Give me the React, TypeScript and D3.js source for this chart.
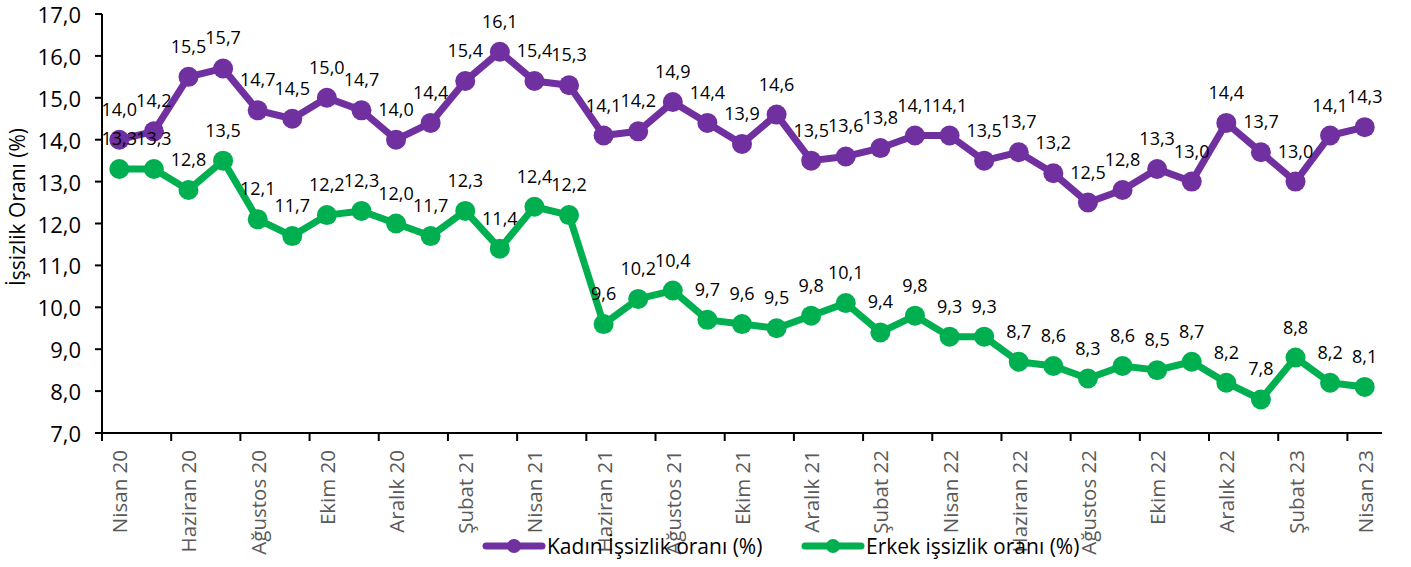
import React, { useEffect } from "react";
import * as d3 from "d3";

const categories = [
  "Nisan 20", "Mayıs 20", "Haziran 20", "Temmuz 20", "Ağustos 20", "Eylül 20",
  "Ekim 20", "Kasım 20", "Aralık 20", "Ocak 21", "Şubat 21", "Mart 21",
  "Nisan 21", "Mayıs 21", "Haziran 21", "Temmuz 21", "Ağustos 21", "Eylül 21",
  "Ekim 21", "Kasım 21", "Aralık 21", "Ocak 22", "Şubat 22", "Mart 22",
  "Nisan 22", "Mayıs 22", "Haziran 22", "Temmuz 22", "Ağustos 22", "Eylül 22",
  "Ekim 22", "Kasım 22", "Aralık 22", "Ocak 23", "Şubat 23", "Mart 23", "Nisan 23",
];

const kadin = [
  14.0, 14.2, 15.5, 15.7, 14.7, 14.5, 15.0, 14.7, 14.0, 14.4, 15.4, 16.1,
  15.4, 15.3, 14.1, 14.2, 14.9, 14.4, 13.9, 14.6, 13.5, 13.6, 13.8, 14.1,
  14.1, 13.5, 13.7, 13.2, 12.5, 12.8, 13.3, 13.0, 14.4, 13.7, 13.0, 14.1, 14.3,
];

const erkek = [
  13.3, 13.3, 12.8, 13.5, 12.1, 11.7, 12.2, 12.3, 12.0, 11.7, 12.3, 11.4,
  12.4, 12.2, 9.6, 10.2, 10.4, 9.7, 9.6, 9.5, 9.8, 10.1, 9.4, 9.8,
  9.3, 9.3, 8.7, 8.6, 8.3, 8.6, 8.5, 8.7, 8.2, 7.8, 8.8, 8.2, 8.1,
];

const yTicks = [7, 8, 9, 10, 11, 12, 13, 14, 15, 16, 17];

const seriesNames = ["Kadın İşsizlik oranı (%)", "Erkek işsizlik oranı (%)"];
const seriesColors = ["#7030A0", "#00B050"];

const W = 1411;
const H = 567;
const FONT = "'Open Sans', sans-serif";

export default function App() {
  useEffect(() => {
    document.body.style.margin = "0";
  }, []);

  const left = 102;
  const right = 1382;
  const top = 14;
  const bottom = 433;

  const x = d3.scaleBand<string>().domain(categories).range([left, right]).padding(0);
  const y = d3.scaleLinear().domain([7, 17]).range([bottom, top]);
  const cx = (i: number) => (x(categories[i]) as number) + x.bandwidth() / 2;
  const fmt = (v: number) => v.toFixed(1).replace(".", ",");

  const line = d3
    .line<number>()
    .x((_, i) => cx(i))
    .y((d) => y(d));

  const series = [kadin, erkek];

  return (
    <svg width={W} height={H} style={{ display: "block", fontFamily: FONT }}>
      <rect x={0} y={0} width={W} height={H} fill="#fff" />
      {/* y axis */}
      <line x1={left} x2={left} y1={top} y2={bottom} stroke="#000" strokeWidth={2} />
      {yTicks.map((t) => (
        <g key={t}>
          <line x1={left - 7} x2={left} y1={y(t)} y2={y(t)} stroke="#000" strokeWidth={2} />
          <text
            x={left - 21}
            y={y(t)}
            textAnchor="end"
            dominantBaseline="central"
            fontSize={22}
            fill="#000"
          >
            {fmt(t)}
          </text>
        </g>
      ))}
      {/* x axis */}
      <line x1={left} x2={right} y1={bottom} y2={bottom} stroke="#000" strokeWidth={2} />
      {categories.map((c, i) =>
        i % 2 === 0 ? (
          <g key={c}>
            <line
              x1={x(c) as number}
              x2={x(c) as number}
              y1={bottom}
              y2={bottom + 8}
              stroke="#000"
              strokeWidth={2}
            />
            <text
              transform={`translate(${cx(i)},${bottom + 17}) rotate(-90)`}
              textAnchor="end"
              dominantBaseline="central"
              fontSize={20.5}
              fill="#595959"
            >
              {c}
            </text>
          </g>
        ) : null
      )}
      {/* y axis title */}
      <text
        transform={`translate(17,207) rotate(-90)`}
        textAnchor="middle"
        dominantBaseline="central"
        fontSize={21}
        fill="#000"
      >
        İşsizlik Oranı (%)
      </text>
      {/* series */}
      {series.map((s, si) => (
        <g key={si}>
          <path d={line(s) || ""} fill="none" stroke={seriesColors[si]} strokeWidth={7} strokeLinejoin="round" />
          {s.map((v, i) => (
            <circle key={i} cx={cx(i)} cy={y(v)} r={10} fill={seriesColors[si]} />
          ))}
        </g>
      ))}
      {series.map((s, si) => (
        <g key={"l" + si}>
          {s.map((v, i) => (
            <text
              key={i}
              x={cx(i)}
              y={y(v) - 31}
              textAnchor="middle"
              dominantBaseline="central"
              fontSize={18}
              fill="#000"
            >
              {fmt(v)}
            </text>
          ))}
        </g>
      ))}
      {/* legend */}
      {seriesNames.map((n, i) => {
        const lx = i === 0 ? 486 : 805;
        const ly = 546;
        return (
          <g key={n}>
            <line x1={lx} x2={lx + 56} y1={ly} y2={ly} stroke={seriesColors[i]} strokeWidth={7} strokeLinecap="round" />
            <circle cx={lx + 28} cy={ly} r={7} fill={seriesColors[i]} />
            <text x={lx + 61} y={ly} dominantBaseline="central" fontSize={21} fill="#000">
              {n}
            </text>
          </g>
        );
      })}
    </svg>
  );
}
